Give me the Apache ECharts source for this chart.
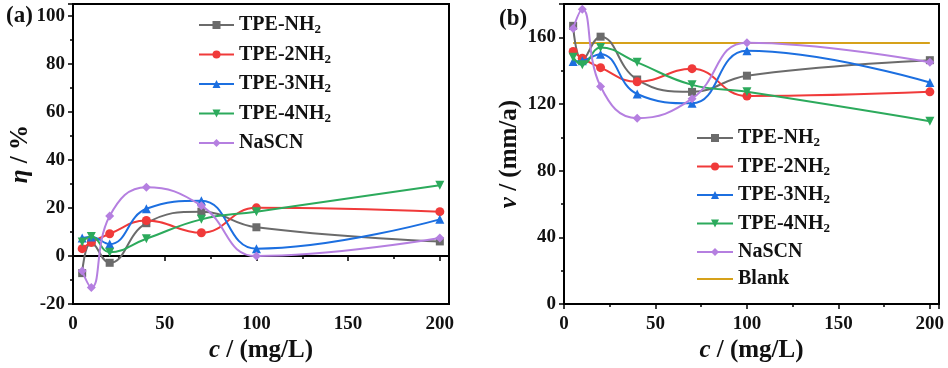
<!DOCTYPE html>
<html>
<head>
<meta charset="utf-8">
<script src="https://cdn.jsdelivr.net/npm/echarts@6/dist/echarts.min.js"></script>
<style>
  html, body { margin: 0; padding: 0; background: #fff; }
  #chart { width: 948px; height: 368px; }
</style>
</head>
<body>
<div id="chart"></div>
<script>
// concentrations (mg/L)
const conc = [5, 10, 20, 40, 70, 100, 200];
const names = ['TPE-NH2', 'TPE-2NH2', 'TPE-3NH2', 'TPE-4NH2', 'NaSCN'];

// (a) inhibition efficiency eta / %
const etaNH1 = [-7.1, 5.7, -2.8, 13.7, 18.5, 12.0, 6.1];
const etaNH2 = [3.1, 5.7, 9.3, 14.8, 9.7, 20.1, 18.5];
const etaNH3 = [7.5, 8.0, 5.0, 19.7, 23.1, 3.1, 15.3];
const etaNH4 = [5.9, 8.2, 1.6, 7.2, 15.3, 18.5, 29.5];
const etaNaSCN = [-6.2, -13.1, 16.7, 28.7, 21.0, 0.0, 7.5];

// (b) corrosion rate v / (mm/a)
const rateNH1 = [166.9, 146.5, 160.4, 134.7, 127.3, 137.0, 146.3];
const rateNH2 = [151.5, 147.5, 141.8, 133.3, 141.2, 124.8, 127.3];
const rateNH3 = [145.5, 146.0, 149.9, 126.0, 120.4, 151.9, 132.9];
const rateNH4 = [148.0, 143.6, 153.9, 145.0, 131.5, 127.3, 109.7];
const rateNaSCN = [165.3, 176.8, 130.5, 111.5, 123.2, 156.8, 145.0];
const blankRate = 156.6;
const blankX = [5, 200];

const colors = ['#6b6b6b', '#f03a3a', '#1c6fe0', '#2caa5c', '#b57fe0'];
const blankColor = '#d6a11a';
const symbols = ['rect', 'circle', 'triangle', 'triangle', 'diamond'];
const rotates = [0, 0, 0, 180, 0];

const FONT = "'Liberation Serif', 'Times New Roman', serif";

const pair = (arr) => conc.map((c, i) => [c, arr[i]]);

const mkSeries = (arrs, idx) => arrs.map((arr, i) => ({
  name: names[i],
  type: 'line',
  xAxisIndex: idx,
  yAxisIndex: idx,
  smooth: 0.45,
  data: pair(arr),
  symbol: symbols[i],
  symbolRotate: rotates[i],
  symbolSize: i === 0 ? 8 : 9,
  lineStyle: { width: 2, color: colors[i] },
  itemStyle: { color: colors[i] },
  z: 2 + i
}));

const legendRich = {
  n: { fontFamily: FONT, fontWeight: 'bold', fontSize: 20, color: '#111', lineHeight: 22 },
  s: { fontFamily: FONT, fontWeight: 'bold', fontSize: 13, color: '#111', padding: [10, 0, 0, 0] }
};
const legendFmt = (name) => name.endsWith('NH2')
  ? '{n|' + name.slice(0, -1) + '}{s|2}'
  : '{n|' + name + '}';

const axisBase = {
  axisLine: { show: true, lineStyle: { color: '#000', width: 2 } },
  axisTick: { show: true, inside: false, length: 5, lineStyle: { color: '#000', width: 1.5 } },
  minorTick: { show: true, splitNumber: 2, length: 3, lineStyle: { color: '#000', width: 1.5 } },
  splitLine: { show: false },
  nameTextStyle: {
    fontFamily: FONT, fontWeight: 'bold', fontSize: 25, color: '#111',
    rich: { i: { fontFamily: FONT, fontWeight: 'bold', fontStyle: 'italic', fontSize: 25, color: '#111' } }
  }
};
const labelStyle = (step) => ({
  fontFamily: FONT, fontWeight: 'bold', fontSize: 19, color: '#111',
  formatter: (v) => (Math.abs(v % step) < 1e-9 ? String(v) : '')
});

const xAxis = (idx) => Object.assign({}, axisBase, {
  type: 'value', gridIndex: idx, min: 0, max: 205, interval: 50,
  name: '{i|c} / (mg/L)', nameLocation: 'middle', nameGap: 33,
  axisLabel: Object.assign({ margin: 10 }, labelStyle(50))
});

const chart = echarts.init(document.getElementById('chart'));
chart.setOption({
  animation: false,
  backgroundColor: '#fff',
  title: [
    { text: '(a)', left: 1, top: 0, textStyle: { fontFamily: FONT, fontWeight: 'bold', fontSize: 23, color: '#111' } },
    { text: '(b)', left: 494, top: 3, textStyle: { fontFamily: FONT, fontWeight: 'bold', fontSize: 23, color: '#111' } }
  ],
  grid: [
    { left: 73, top: 4, width: 376, height: 303, show: true, borderColor: '#000', borderWidth: 2 },
    { left: 564, top: 4, width: 375, height: 303, show: true, borderColor: '#000', borderWidth: 2 }
  ],
  legend: [
    {
      data: names, orient: 'vertical', left: 198, top: 15, padding: 0, itemWidth: 35, itemHeight: 10, itemGap: 8,
      formatter: legendFmt, textStyle: { rich: legendRich }, selectedMode: false
    },
    {
      data: names.concat([{ name: 'Blank', icon: 'path://M0,0 L36,0 L36,2 L0,2 Z' }]),
      orient: 'vertical', left: 696, top: 128, padding: 0, itemWidth: 36, itemHeight: 10, itemGap: 7,
      formatter: legendFmt, textStyle: { rich: legendRich }, selectedMode: false
    }
  ],
  xAxis: [xAxis(0), xAxis(1)],
  yAxis: [
    Object.assign({}, axisBase, {
      type: 'value', gridIndex: 0, min: -20, max: 105, interval: 20,
      name: '{i|η} / %', nameLocation: 'middle', nameGap: 40,
      axisLabel: Object.assign({ margin: 8 }, labelStyle(20))
    }),
    Object.assign({}, axisBase, {
      type: 'value', gridIndex: 1, min: 0, max: 180, interval: 40,
      name: '{i|v} / (mm/a)', nameLocation: 'middle', nameGap: 42,
      axisLabel: Object.assign({ margin: 8 }, labelStyle(40))
    })
  ],
  series: mkSeries([etaNH1, etaNH2, etaNH3, etaNH4, etaNaSCN], 0)
    .concat(mkSeries([rateNH1, rateNH2, rateNH3, rateNH4, rateNaSCN], 1))
    .concat([{
      name: 'Blank', type: 'line', xAxisIndex: 1, yAxisIndex: 1,
      data: blankX.map((x) => [x, blankRate]), symbol: 'none',
      lineStyle: { width: 2, color: blankColor }, itemStyle: { color: blankColor }, z: 1
    }])
});
</script>
</body>
</html>
